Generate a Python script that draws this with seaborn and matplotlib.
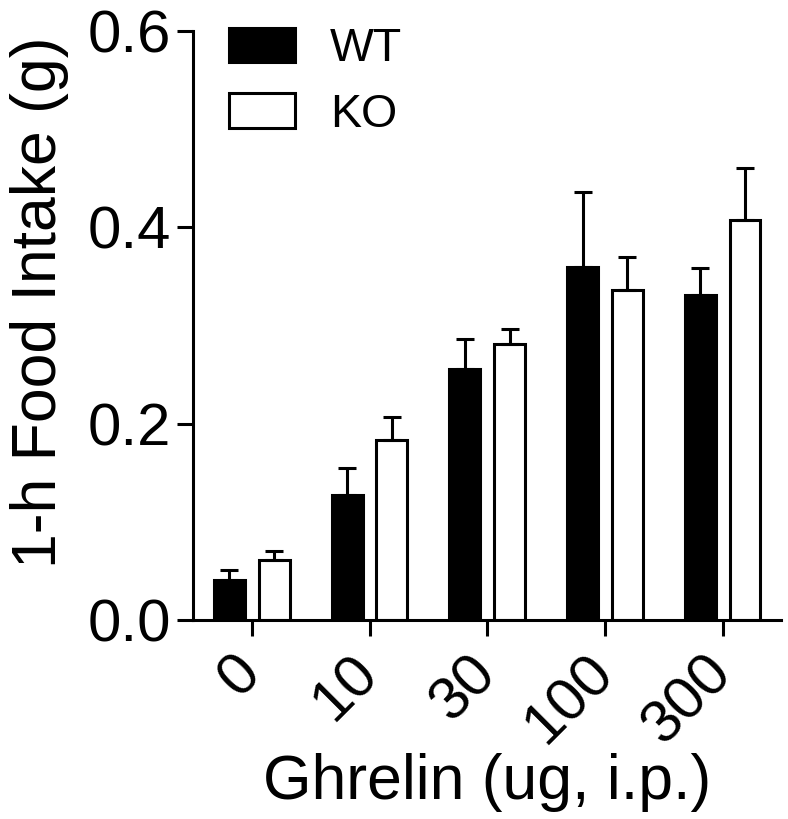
import numpy as np
import pandas as pd
import matplotlib
matplotlib.use('Agg')
import matplotlib.pyplot as plt
import seaborn as sns

# Ghrelin dose (ug, i.p.)
doses = ['0', '10', '30', '100', '300']
genotypes = ['WT', 'KO']

# 1-h food intake (g), mean and SEM
wt_mean = [0.041, 0.128, 0.256, 0.360, 0.331]
wt_sem = [0.010, 0.027, 0.030, 0.076, 0.028]
ko_mean = [0.062, 0.184, 0.281, 0.336, 0.407]
ko_sem = [0.009, 0.023, 0.016, 0.034, 0.053]

df = pd.DataFrame({
    'dose': doses * 2,
    'genotype': ['WT'] * len(doses) + ['KO'] * len(doses),
    'intake': wt_mean + ko_mean,
})
sems = {'WT': wt_sem, 'KO': ko_sem}

sns.set_style('ticks')
plt.rcParams['font.family'] = ['Liberation Sans', 'DejaVu Sans']
plt.rcParams['text.color'] = 'black'
plt.rcParams['axes.labelcolor'] = 'black'
plt.rcParams['xtick.color'] = 'black'
plt.rcParams['ytick.color'] = 'black'
plt.rcParams['axes.edgecolor'] = 'black'

fig = plt.figure(figsize=(7.88, 8.19), dpi=100)
ax = fig.add_axes([0.2449, 0.2424, 0.7468, 0.7201])

lw = 2.2
sns.barplot(data=df, x='dose', y='intake', hue='genotype', order=doses,
            hue_order=genotypes, palette={'WT': 'black', 'KO': 'white'},
            edgecolor='black', linewidth=lw, width=0.76, gap=0.31,
            errorbar=None, saturation=1, ax=ax)

# one-sided SEM bars on top of each bar
for cont, g in zip(ax.containers, genotypes):
    xs = [b.get_x() + b.get_width() / 2 for b in cont]
    ys = [b.get_height() for b in cont]
    ax.errorbar(xs, ys, yerr=[np.zeros(len(ys)), sems[g]], fmt='none',
                ecolor='black', elinewidth=lw, capsize=6.4, capthick=lw,
                zorder=1)

ax.set_xlim(-0.5, 4.5)
ax.set_ylim(0, 0.6)
ax.set_yticks([0.0, 0.2, 0.4, 0.6])
ax.set_yticklabels(['0.0', '0.2', '0.4', '0.6'])
sns.despine(ax=ax)
for s in ['left', 'bottom']:
    ax.spines[s].set_linewidth(lw)
ax.tick_params(axis='both', width=lw, length=11.5, labelsize=43, pad=4,
               color='black', labelcolor='black')
ax.tick_params(axis='x', pad=20)
plt.setp(ax.get_xticklabels(), rotation=45, ha='right', va='center',
         rotation_mode='anchor')

ax.set_xlabel('Ghrelin (ug, i.p.)', fontsize=45)
ax.set_ylabel('1-h Food Intake (g)', fontsize=45)
ax.xaxis.set_label_coords(0.5, -0.224)
ax.yaxis.set_label_coords(-0.21, 0.54)

sns.move_legend(ax, 'upper left', bbox_to_anchor=(0.061, 1.006), frameon=False,
                fontsize=33.5, title=None, handlelength=1.42,
                handleheight=0.77, handletextpad=0.75, labelspacing=0.47,
                borderpad=0, borderaxespad=0)
for t in ax.get_legend().get_texts():
    t.set_color('black')

fig.savefig('out.png', dpi=100)
